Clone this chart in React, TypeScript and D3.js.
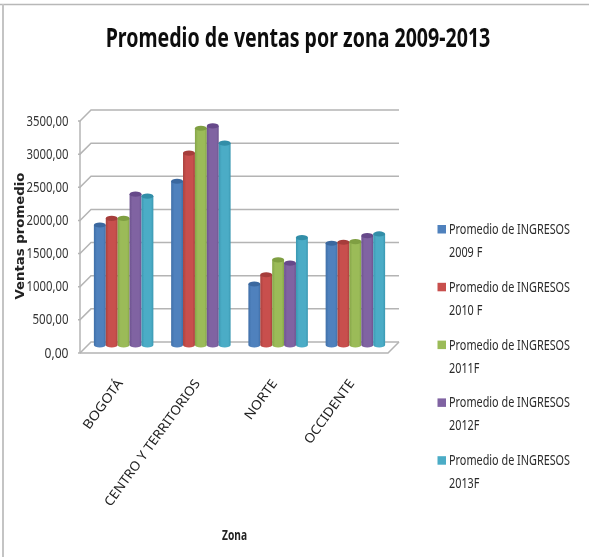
import React from "react";
import * as d3 from "d3";

const zones = ["BOGOTÁ", "CENTRO Y TERRITORIOS", "NORTE", "OCCIDENTE"];
const seriesNames = ["2009", "2010", "2011", "2012", "2013"];
const legendLine1 = "Promedio de INGRESOS";
const legendLine2 = ["2009 F", "2010 F", "2011F", "2012F", "2013F"];
const colors = ["#4f81bd", "#c8504d", "#9bbb59", "#8064a2", "#4bacc6"];
const edgeColors = ["#3f6fa8", "#a8403d", "#85a548", "#6d5290", "#3a98b2"];
const topColors = ["#3a689f", "#a63e3b", "#7f9f42", "#66498a", "#338ea8"];
const ingresos2009 = [1810, 2470, 920, 1535];
const ingresos2010 = [1910, 2895, 1060, 1550];
const ingresos2011 = [1910, 3270, 1285, 1560];
const ingresos2012 = [2275, 3305, 1235, 1650];
const ingresos2013 = [2245, 3045, 1620, 1675];
const allSeries = [ingresos2009, ingresos2010, ingresos2011, ingresos2012, ingresos2013];
const yTicks = [0, 500, 1000, 1500, 2000, 2500, 3000, 3500];
const zoneLabelLengths = [58, 153, 46, 76];

const FONT = "'Noto Sans', sans-serif";
const GRID = "#b4b4b4";
const DEPTH = 11;
const BAR_SHIFT = 8;
const RY = 2.6;

export default function App() {
  const y = d3.scaleLinear().domain([0, 3500]).range([353, 121]);
  const x0 = d3.scaleBand<string>().domain(zones).range([85, 394]).paddingInner(0.23).paddingOuter(0.115);
  const x1 = d3.scaleBand<string>().domain(seriesNames).range([0, x0.bandwidth()]);
  const xLeft = 80;
  const xRight = 388;
  const fmt = (v: number) => d3.format(".2f")(v).replace(".", ",");

  return (
    <svg width={589} height={557} style={{ position: "absolute", left: 0, top: 0, background: "#fff" }}>
      <defs>
        <filter id="soft" x="-5%" y="-5%" width="110%" height="110%">
          <feGaussianBlur stdDeviation="0.42" />
        </filter>
        {colors.map((c, i) => (
          <linearGradient key={c} id={`cyl${i}`} x1="0" x2="1" y1="0" y2="0">
            <stop offset="0" stopColor={edgeColors[i]} />
            <stop offset="0.25" stopColor={c} />
            <stop offset="0.8" stopColor={c} />
            <stop offset="1" stopColor={edgeColors[i]} />
          </linearGradient>
        ))}
      </defs>
      <g filter="url(#soft)">
        <line x1={0} x2={589} y1={4.5} y2={4.5} stroke="#b8b8b8" strokeWidth={1.5} />
        <line x1={3} x2={3} y1={4} y2={557} stroke="#c4c4c4" strokeWidth={2} />

        <text transform="translate(298,47) scale(0.725,1)" textAnchor="middle" fontFamily={FONT} fontWeight={700}
          fontSize={27} fill="#111">
          Promedio de ventas por zona 2009-2013
        </text>

        {yTicks.map((t) => (
          <g key={t} stroke={GRID} strokeWidth={1.5} fill="none">
            <path d={`M${xLeft - 2},${y(t)}L${xLeft},${y(t)}L${xLeft + DEPTH},${y(t) - DEPTH}L${xRight + DEPTH},${y(t) - DEPTH}`} />
          </g>
        ))}
        <line x1={xLeft} x2={xLeft} y1={y(3500)} y2={y(0)} stroke={GRID} strokeWidth={1.5} />
        <path d={`M${xLeft},${y(0)}L${xRight},${y(0)}L${xRight + DEPTH},${y(0) - DEPTH}`} stroke={GRID} strokeWidth={1.5} fill="none" />

        {yTicks.map((t) => {
          const label = fmt(t);
          return (
            <text key={t} x={68.5} y={y(t) + 4.5} textAnchor="end" fontFamily={FONT} fontSize={14}
              textLength={label.length * 6} lengthAdjust="spacingAndGlyphs" fill="#333">
              {label}
            </text>
          );
        })}

        {zones.map((z, zi) =>
          seriesNames.map((s, si) => {
            const bx = x0(z)! + x1(s)!;
            const w = x1.bandwidth();
            const rx = w / 2;
            const yTop = y(allSeries[si][zi]) - BAR_SHIFT;
            const yBase = y(0) - BAR_SHIFT;
            return (
              <g key={z + s}>
                <path
                  d={`M${bx},${yTop}L${bx},${yBase}A${rx},${RY} 0 0 0 ${bx + w},${yBase}L${bx + w},${yTop}Z`}
                  fill={`url(#cyl${si})`}
                />
                <ellipse cx={bx + rx} cy={yTop} rx={rx} ry={RY} fill={topColors[si]} />
              </g>
            );
          })
        )}

        {zones.map((z, i) => {
          const cx = x0(z)! + x0.bandwidth() / 2 - 3.5;
          return (
            <text key={z} transform={`translate(${cx},381) rotate(-54)`} textAnchor="end" fontFamily={FONT}
              fontSize={13} textLength={zoneLabelLengths[i]} lengthAdjust="spacingAndGlyphs" fill="#222" dy={4}>
              {z}
            </text>
          );
        })}

        <text transform="translate(24,236) rotate(-90)" textAnchor="middle" fontFamily="'DejaVu Sans', sans-serif"
          fontWeight={700} fontSize={11.5} textLength={127} lengthAdjust="spacingAndGlyphs" fill="#222">
          Ventas promedio
        </text>
        <text x={234.5} y={540} textAnchor="middle" fontFamily={FONT} fontWeight={700} fontSize={14}
          textLength={25} lengthAdjust="spacingAndGlyphs" fill="#222">
          Zona
        </text>

        {legendLine2.map((l, i) => {
          const ly = 234 + i * 57.8;
          return (
            <g key={l}>
              <rect x={437.5} y={ly - 9} width={8.5} height={8.5} fill={colors[i]} />
              <text transform={`translate(449,${ly}) scale(0.775,1)`} fontFamily={FONT} fontSize={14} fill="#2a2a2a">
                {legendLine1}
              </text>
              <text transform={`translate(449,${ly + 23}) scale(0.775,1)`} fontFamily={FONT} fontSize={14} fill="#2a2a2a">
                {l}
              </text>
            </g>
          );
        })}
      </g>
    </svg>
  );
}
